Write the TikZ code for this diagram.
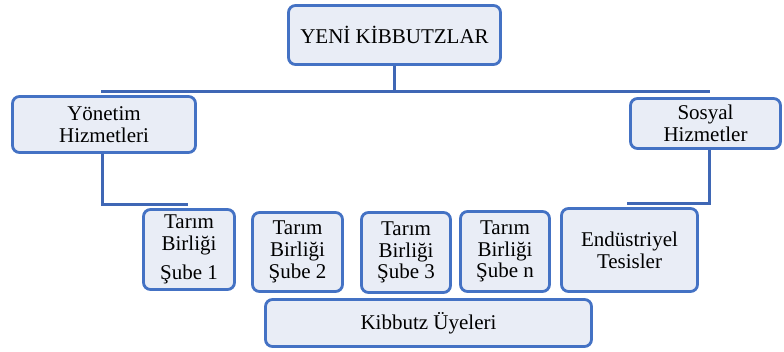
\documentclass[tikz,border=0pt]{standalone}
\usepackage{fontspec}
\setmainfont{Liberation Serif}
\newfontfamily\tnr{Liberation Serif}
\definecolor{bord}{HTML}{4472C4}
\definecolor{fillc}{HTML}{E9EDF6}
\definecolor{linec}{HTML}{3F67B5}
\begin{document}
\begin{tikzpicture}[x=1pt,y=1pt,
  box/.style={draw=bord, fill=fillc, line width=2.8pt, rounded corners=7pt, align=center,
    inner sep=0pt, font=\tnr\fontsize{21}{21.7}\selectfont, text=black},
  conn/.style={draw=linec, line width=3pt}]
\useasboundingbox (0,0) rectangle (784,352);
\node[box, minimum width=212pt, minimum height=59pt] (top) at (394.5,317) {YENİ KİBBUTZLAR};
\node[box, minimum width=183pt, minimum height=56pt] (yon) at (104,227.5) {Yönetim\\Hizmetleri};
\node[box, minimum width=150pt, minimum height=50pt] (sos) at (705.5,228.5) {Sosyal\\Hizmetler};
\node[box, minimum width=91pt, minimum height=80pt] (t1) at (189,102.5) {Tarım\\Birliği\\[8pt]Şube 1};
\node[box, minimum width=90pt, minimum height=79pt] (t2) at (297.5,100) {Tarım\\Birliği\\Şube 2};
\node[box, minimum width=89pt, minimum height=80pt] (t3) at (406,99.5) {Tarım\\Birliği\\Şube 3};
\node[box, minimum width=89pt, minimum height=80pt] (tn) at (505,100.5) {Tarım\\Birliği\\Şube n};
\node[box, minimum width=136pt, minimum height=83pt] (end) at (629.5,102) {Endüstriyel\\Tesisler};
\node[box, minimum width=326pt, minimum height=47pt] (kib) at (428.5,29) {Kibbutz Üyeleri};
\coordinate (hl) at (101,260);
\coordinate (hr) at (710,260);
\coordinate (la) at (102,147);
\coordinate (lb) at (188,147);
\coordinate (ra) at (709,148);
\coordinate (rb) at (627,148);
\draw[conn] (top.south) |- (hl);
\draw[conn] (top.south) |- (hr);
\draw[conn] (yon.south -| la) -- (la) -- (lb);
\draw[conn] (sos.south -| ra) -- (ra) -- (rb);
\end{tikzpicture}
\end{document}
